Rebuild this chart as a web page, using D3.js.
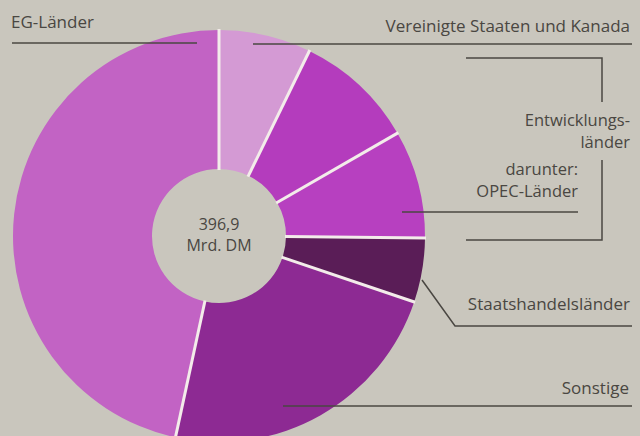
<!DOCTYPE html>
<html>
<head>
<meta charset="utf-8">
<script src="https://cdn.jsdelivr.net/npm/d3@7"></script>
<style>
  html, body { margin: 0; padding: 0; background: #c9c6bd; }
  svg { display: block; font-family: "Open Sans", Lato, sans-serif; }
</style>
</head>
<body>
<div class="chart-container"></div>
<script>
// Ausfuhr nach Ländergruppen, Mrd. DM
const regions = ["Vereinigte Staaten und Kanada", "Entwicklungsländer", "OPEC-Länder",
                 "Staatshandelsländer", "Sonstige", "EG-Länder"];
const values = [28.7, 37.5, 33.6, 20.0, 92.1, 185.0];
const colors = ["#d49ad4", "#b43cbd", "#b740c0", "#5a1d57", "#8d2a93", "#c263c4"];
const totalLabel = ["396,9", "Mrd. DM"];

const width = 640, height = 436;
const cx = 219, cy = 236;
const innerRadius = 67, outerRadius = 206;
const ink = "#4a4742";

const data = regions.map((r, i) => ({ region: r, value: values[i] }));

const svg = d3.select(".chart-container")
    .append("svg")
    .attr("width", width)
    .attr("height", height);

svg.append("rect").attr("width", width).attr("height", height).attr("fill", "#c9c6bd");

const pie = d3.pie().sort(null).value(d => d.value);
const arcs = pie(data);

const arc = d3.arc().innerRadius(innerRadius).outerRadius(outerRadius);

const g = svg.append("g").attr("transform", `translate(${cx},${cy})`);

g.selectAll("path")
    .data(arcs)
    .join("path")
    .attr("d", arc)
    .attr("fill", (d, i) => colors[i]);

// white separators between slices
g.selectAll("line.sep")
    .data(arcs)
    .join("line")
    .attr("class", "sep")
    .attr("x1", d => Math.sin(d.startAngle) * (innerRadius - 1))
    .attr("y1", d => -Math.cos(d.startAngle) * (innerRadius - 1))
    .attr("x2", d => Math.sin(d.startAngle) * (outerRadius + 1))
    .attr("y2", d => -Math.cos(d.startAngle) * (outerRadius + 1))
    .attr("stroke", "#f3ecea")
    .attr("stroke-width", 3);

// centre label
g.append("text")
    .attr("text-anchor", "middle")
    .attr("fill", ink)
    .attr("font-size", 16)
    .selectAll("tspan")
    .data(totalLabel)
    .join("tspan")
    .attr("x", 0)
    .attr("y", (d, i) => -6 + i * 21)
    .text(d => d);

// labels + leader lines
const lines = svg.append("g")
    .attr("fill", "none")
    .attr("stroke", ink)
    .attr("stroke-width", 1.5);

const labels = svg.append("g")
    .attr("fill", ink)
    .attr("font-size", 17);

// EG-Länder
labels.append("text").attr("x", 11).attr("y", 28).text(regions[5]);
lines.append("path").attr("d", "M12,43H197");

// Vereinigte Staaten und Kanada
labels.append("text").attr("x", 630).attr("y", 32).attr("text-anchor", "end").text(regions[0]);
lines.append("path").attr("d", "M253,44H632");

// Entwicklungsländer bracket
lines.append("path").attr("d", "M466,58H602V102");
lines.append("path").attr("d", "M602,160V240H466");
labels.append("text").attr("text-anchor", "end")
    .attr("font-size", 16.5)
    .selectAll("tspan")
    .data(["Entwicklungs-", "länder"])
    .join("tspan")
    .attr("x", 630)
    .attr("y", (d, i) => 126 + i * 22)
    .text(d => d);

// darunter: OPEC-Länder
labels.append("text").attr("text-anchor", "end")
    .attr("font-size", 16.5)
    .selectAll("tspan")
    .data(["darunter:", regions[2]])
    .join("tspan")
    .attr("x", 578)
    .attr("y", (d, i) => 175 + i * 22)
    .text(d => d);
lines.append("path").attr("d", "M402,212H578");

// Staatshandelsländer
labels.append("text").attr("x", 630).attr("y", 310).attr("text-anchor", "end").text(regions[3]);
lines.append("path").attr("d", "M422,280L455,326H632");

// Sonstige
labels.append("text").attr("x", 629).attr("y", 394).attr("text-anchor", "end").text(regions[4]);
lines.append("path").attr("d", "M283,406H632");
</script>
</body>
</html>
